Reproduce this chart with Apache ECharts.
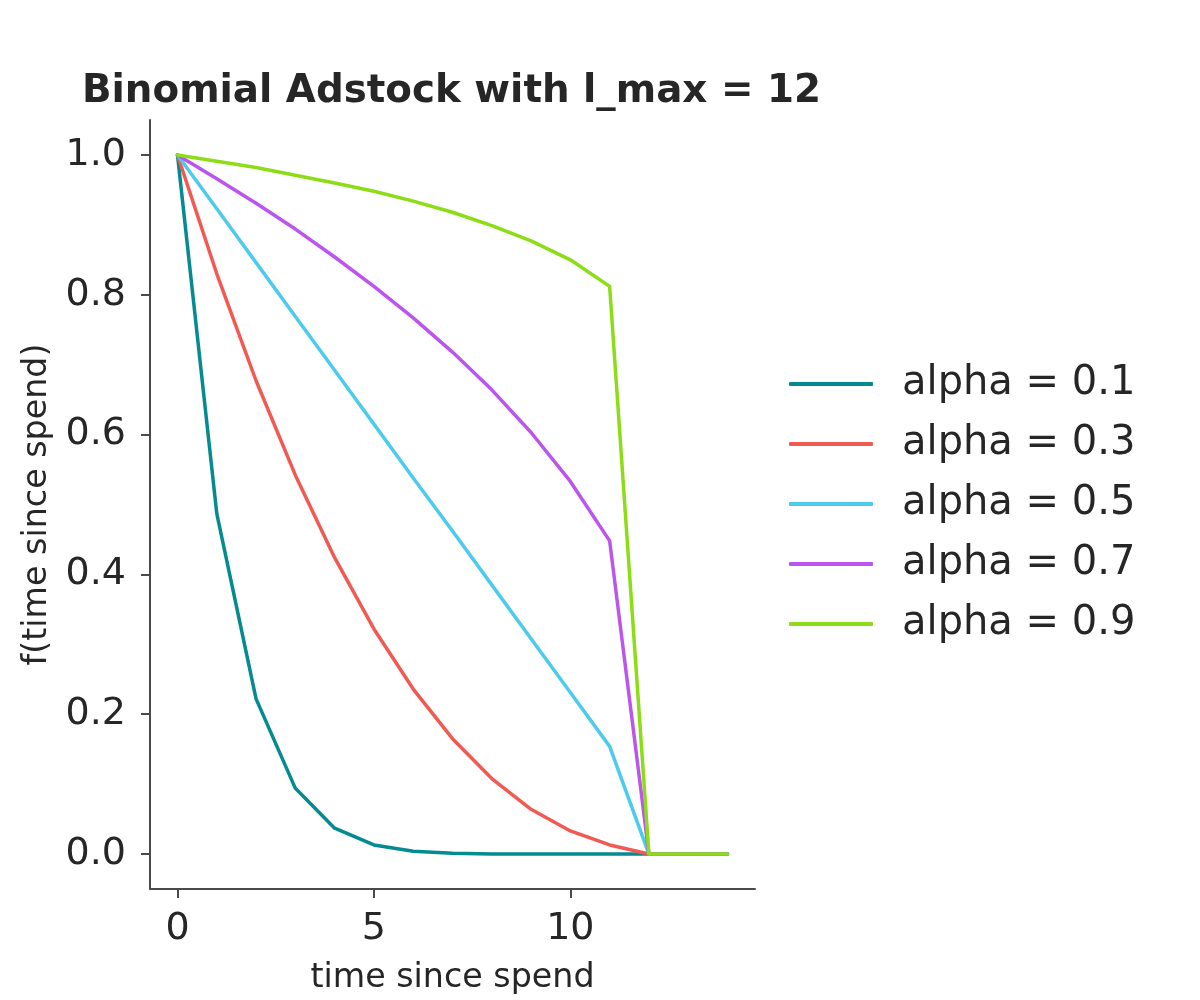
<!DOCTYPE html>
<html>
<head>
    <meta charset="utf-8">
    <title>Binomial Adstock</title>
    <script src="https://cdn.jsdelivr.net/npm/echarts@6/dist/echarts.min.js"></script>
    <style>
        html, body { margin: 0; padding: 0; background: #fff; }
        #chart { width: 1200px; height: 1000px; }
    </style>
</head>
<body>
<div id="chart"></div>
<script>
    // time since spend (x)
    var lags = [0, 1, 2, 3, 4, 5, 6, 7, 8, 9, 10, 11, 12, 13, 14];
    // values, one list per alpha
    var alpha01 = [1, 0.487, 0.222, 0.094, 0.037, 0.013, 0.004, 0.001, 0.0002, 0, 0, 0, 0, 0, 0];
    var alpha03 = [1, 0.830, 0.677, 0.542, 0.424, 0.322, 0.236, 0.165, 0.108, 0.064, 0.033, 0.013, 0, 0, 0];
    var alpha05 = [1, 0.923, 0.846, 0.769, 0.692, 0.615, 0.538, 0.462, 0.385, 0.308, 0.231, 0.154, 0, 0, 0];
    var alpha07 = [1, 0.966, 0.931, 0.894, 0.854, 0.812, 0.767, 0.718, 0.664, 0.603, 0.533, 0.448, 0, 0, 0];
    var alpha09 = [1, 0.991, 0.982, 0.971, 0.960, 0.948, 0.934, 0.918, 0.899, 0.877, 0.850, 0.812, 0, 0, 0];
    var seriesNames = ['alpha = 0.1', 'alpha = 0.3', 'alpha = 0.5', 'alpha = 0.7', 'alpha = 0.9'];
    var xTicks = [0, 5, 10];
    var yTicks = [0, 0.2, 0.4, 0.6, 0.8, 1.0];

    var colors = ['#038b8f', '#f05a53', '#4ccbec', '#bb55ee', '#8cdd16'];
    var font = 'DejaVu Sans';
    var ink = '#262626';
    var axisColor = '#4a4a4a';

    var allValues = [alpha01, alpha03, alpha05, alpha07, alpha09];

    function pairs(vals) {
        return lags.map(function (x, i) { return [x, vals[i]]; });
    }

    var myChart = echarts.init(document.getElementById('chart'));

    myChart.setOption({
        backgroundColor: '#ffffff',
        color: colors,
        animation: false,
        title: {
            text: 'Binomial Adstock with l_max = 12',
            left: 77,
            top: 67,
            textStyle: { fontFamily: font, fontSize: 38.8, fontWeight: 'bold', color: ink }
        },
        legend: {
            data: seriesNames,
            orient: 'vertical',
            left: 789,
            top: 363,
            padding: 0,
            icon: 'roundRect',
            itemWidth: 84,
            itemHeight: 4,
            itemGap: 18,
            textStyle: {
                fontFamily: font, fontSize: 40, color: ink,
                lineHeight: 42, padding: [0, 0, 0, 24]
            }
        },
        grid: { left: 150, right: 445, top: 120, bottom: 111, containLabel: false },
        xAxis: {
            type: 'value',
            min: -0.7,
            max: 14.7,
            name: 'time since spend',
            nameLocation: 'middle',
            nameGap: 73,
            nameTextStyle: { fontFamily: font, fontSize: 33.3, color: ink },
            splitLine: { show: false },
            axisLine: { onZero: false, lineStyle: { color: axisColor, width: 2 } },
            axisTick: { customValues: xTicks, length: 9, lineStyle: { color: axisColor, width: 2 } },
            axisLabel: {
                customValues: xTicks, margin: 21,
                fontFamily: font, fontSize: 38, color: ink
            }
        },
        yAxis: {
            type: 'value',
            min: -0.05,
            max: 1.05,
            name: 'f(time since spend)',
            nameLocation: 'middle',
            nameGap: 96,
            nameTextStyle: { fontFamily: font, fontSize: 33.3, color: ink },
            splitLine: { show: false },
            axisLine: { show: true, onZero: false, lineStyle: { color: axisColor, width: 2 } },
            axisTick: { show: true, customValues: yTicks, length: 9, lineStyle: { color: axisColor, width: 2 } },
            axisLabel: {
                customValues: yTicks, margin: 24,
                fontFamily: font, fontSize: 38, color: ink,
                formatter: function (v) { return v.toFixed(1); }
            }
        },
        series: seriesNames.map(function (name, i) {
            return {
                name: name,
                type: 'line',
                data: pairs(allValues[i]),
                symbol: 'none',
                lineStyle: { width: 3.5, color: colors[i], cap: 'round', join: 'round' },
                itemStyle: { color: colors[i] }
            };
        })
    });
</script>
</body>
</html>
